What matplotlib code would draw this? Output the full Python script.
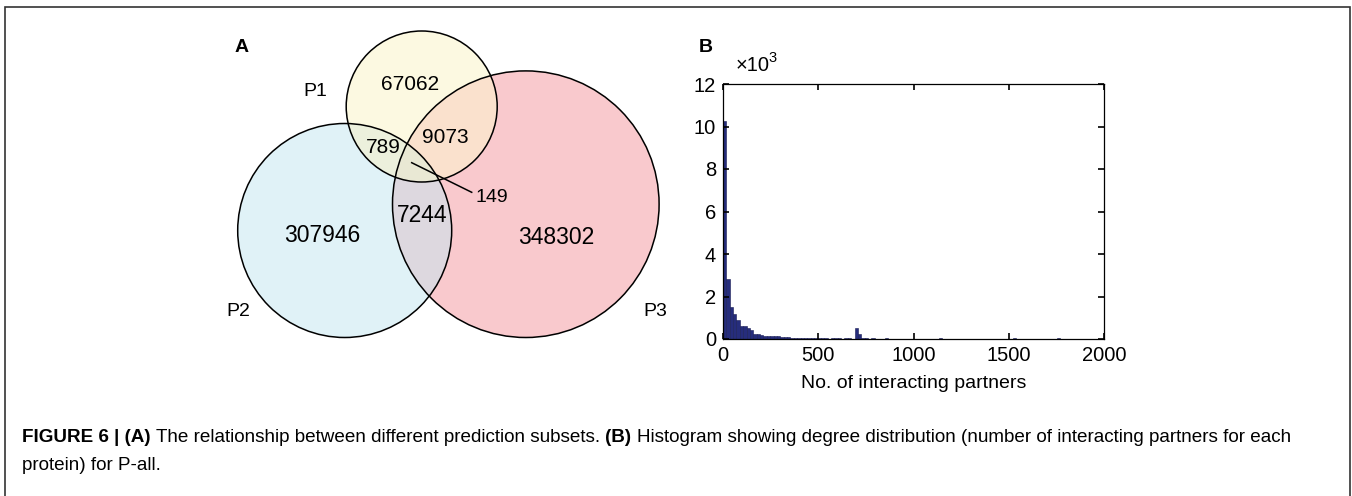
import numpy as np
import matplotlib
matplotlib.use('Agg')
import matplotlib.pyplot as plt
from matplotlib.patches import Circle
from matplotlib.transforms import IdentityTransform

# ---- data ----
set_names = ['P1', 'P2', 'P3']
region_labels = ['P1', 'P2', 'P3', 'P1&P3', 'P1&P2', 'P2&P3', 'P1&P2&P3']
region_counts = [67062, 307946, 348302, 9073, 789, 7244, 149]

bin_width = 17.7
hist_counts = [10280, 2820, 1490, 1160, 890, 610, 590, 530, 410, 250,
               220, 170, 140, 140, 130, 130, 120, 80, 80, 75,
               70, 65, 60, 60, 55, 55, 55, 50, 50, 50,
               50, 0, 55, 55, 50, 0, 55, 55, 0, 517,
               220, 70, 60, 0, 50, 0, 0, 0, 45, 0,
               0, 0, 0, 0, 0, 0, 0, 0, 0, 0,
               0, 0, 0, 0, 40, 0, 0, 0, 0, 0,
               0, 0, 0, 0, 0, 0, 0, 0, 0, 0,
               0, 0, 0, 0, 0, 0, 50, 0, 0, 0,
               0, 0, 0, 0, 0, 0, 0, 0, 0, 40]
x_ticks = [0, 500, 1000, 1500, 2000]
y_ticks = [0, 2000, 4000, 6000, 8000, 10000, 12000]
y_ticklabels = ['0', '2', '4', '6', '8', '10', '12']

FONT = ['Liberation Sans', 'DejaVu Sans']
plt.rcParams['font.family'] = FONT

W, H = 1352, 496
fig = plt.figure(figsize=(W / 100, H / 100), dpi=100)

# ---- panel A: venn (pixel coordinates) ----
axv = fig.add_axes([0, 0, 1, 1])
axv.set_xlim(0, W)
axv.set_ylim(H, 0)
axv.axis('off')

circles = {'P1': (421.7, 106.5, 75.5),
           'P2': (344.7, 230.5, 107.0),
           'P3': (525.8, 204.2, 133.3)}
yy, xx = np.mgrid[0:H, 0:W] + 0.5
m = {k: (xx - c[0]) ** 2 + (yy - c[1]) ** 2 <= c[2] ** 2 for k, c in circles.items()}
img = np.ones((H, W, 3))
region_cols = {
    'P1': '#fcf9e1', 'P2': '#e0f2f7', 'P3': '#f9c9cd',
    'P1&P3': '#fae1cd', 'P1&P2': '#ecf0dc', 'P2&P3': '#ddd8df',
    'P1&P2&P3': '#e9e8d4'}
for key, col in region_cols.items():
    inside = key.split('&')
    mask = np.ones((H, W), bool)
    for k in set_names:
        mask &= m[k] if k in inside else ~m[k]
    img[mask] = matplotlib.colors.to_rgb(col)
axv.imshow(img, extent=[0, W, H, 0], interpolation='nearest', zorder=0)
for k, (cx, cy, r) in circles.items():
    axv.add_patch(Circle((cx, cy), r, fill=False, ec='black', lw=1.1, zorder=2))

label_pos = {'P1': (410, 85, 15), 'P2': (322.7, 236, 16.5), 'P3': (556.7, 237.3, 16.5),
             'P1&P3': (445.7, 137.7, 15), 'P1&P2': (383.3, 147.3, 15),
             'P2&P3': (421.7, 216, 16.5), 'P1&P2&P3': (491.7, 197.7, 14)}
for lab, cnt in zip(region_labels, region_counts):
    x, y, fs = label_pos[lab]
    axv.text(x, y, str(cnt), ha='center', va='center', fontsize=fs, zorder=3)
axv.plot([411.7, 471.7], [162.7, 192.3], color='black', lw=1.1, zorder=3)
for name, (x, y) in zip(set_names, [(315, 91.7), (238.3, 311), (655, 311)]):
    axv.text(x, y, name, ha='center', va='center', fontsize=14)
axv.text(241.5, 48, 'A', ha='center', va='center', fontsize=14, fontweight='bold')
axv.text(706, 47, 'B', ha='center', va='center', fontsize=14, fontweight='bold')

# outer frame
axv.plot([4.5, 4.5, 1349.5, 1349.5], [H, 6.5, 6.5, H], color='#333333', lw=1.2,
         solid_joinstyle='miter', clip_on=False)

# ---- panel B: histogram ----
ax = fig.add_axes([723 / W, 1 - 339 / H, (1104 - 723) / W, (339 - 84) / H])
edges = np.arange(len(hist_counts)) * bin_width
ax.bar(edges, hist_counts, width=bin_width, align='edge',
       color='#262d7c', edgecolor='#181c55', linewidth=0.4)
ax.set_xlim(0, 2000)
ax.set_ylim(0, 12000)
ax.set_xticks(x_ticks)
ax.set_yticks(y_ticks)
ax.set_yticklabels(y_ticklabels)
ax.tick_params(direction='in', top=True, right=True, length=4, width=1.2,
               labelsize=14.5, pad=5)
for s in ax.spines.values():
    s.set_linewidth(0.9)
ax.set_xlabel('No. of interacting partners', fontsize=14, labelpad=7)

fig.canvas.draw()
renderer = fig.canvas.get_renderer()

# exponent label above the y axis
fig.text(736, H - 71, '\u00d710', fontsize=14.5, va='baseline',
         transform=IdentityTransform())
fig.text(768.5, H - 62, '3', fontsize=10.5, va='baseline',
         transform=IdentityTransform())


# ---- caption ----
def put_line(x, y, pieces, size):
    a = fig.text(0, 0, 'a a', fontsize=size, transform=IdentityTransform())
    b = fig.text(0, 0, 'aa', fontsize=size, transform=IdentityTransform())
    sp = a.get_window_extent(renderer).width - b.get_window_extent(renderer).width
    a.remove()
    b.remove()
    for s, w in pieces:
        t = fig.text(x, y, s, fontsize=size, fontweight=w,
                     va='center', ha='left', transform=IdentityTransform())
        x += t.get_window_extent(renderer).width + sp


cap_size = 13.6
put_line(22, H - 437, [('FIGURE 6 | (A)', 'bold'),
                       ('The relationship between different prediction subsets.', 'normal'),
                       ('(B)', 'bold'),
                       ('Histogram showing degree distribution (number of interacting partners for each', 'normal')],
         cap_size)
put_line(22, H - 466, [('protein) for P-all.', 'normal')], cap_size)

fig.savefig('out.png', dpi=100)
